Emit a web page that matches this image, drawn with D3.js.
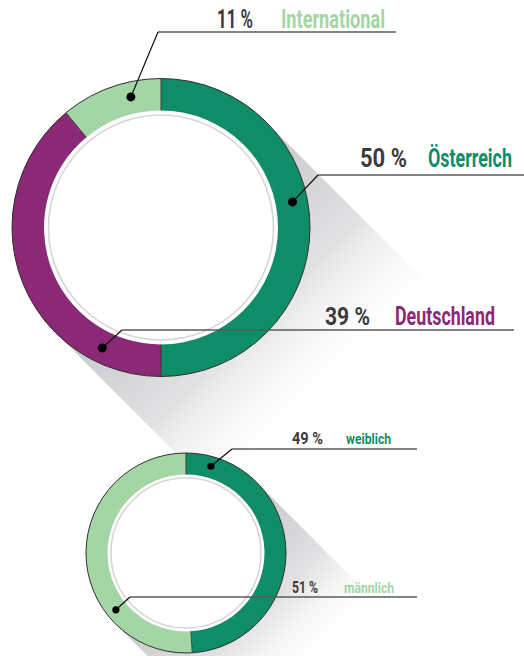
<!DOCTYPE html>
<html><head><meta charset="utf-8">
<script src="https://cdn.jsdelivr.net/npm/d3@7"></script>
<style>html,body{margin:0;padding:0;background:#fff;}svg{display:block;}</style>
</head><body>
<script>
// ---- data ----
const herkunftCategories = ["Österreich", "Deutschland", "International"];
const herkunftValues = [50, 39, 11];
const geschlechtCategories = ["weiblich", "männlich"];
const geschlechtValues = [49, 51];

// ---- styling / layout ----
const colorsHerkunft = ["#0f8c68", "#8b2977", "#a3d5a5"];
const colorsGeschlecht = ["#0f8c68", "#a3d5a5"];
const W = 524, H = 656;

const svg = d3.select("body").append("svg").attr("width", W).attr("height", H);
svg.append("rect").attr("width", W).attr("height", H).attr("fill", "#fff");
const defs = svg.append("defs");

const donuts = [
  { id: "a", cats: herkunftCategories, vals: herkunftValues, colors: colorsHerkunft,
    cx: 161, cy: 227.5, rO: 149, rI: 117, rG: 112.5, shadowLen: 250, fade: 245,
    dotR: 4.5, pctSize: 26.5, labSize: 25,
    labels: [
      { dotDeg: 79,  elbowX: 318, lineY: 175, lineEnd: 530, pctEnd: 407, pctW: 47, labX: 428, labW: 84, base: 167 },
      { dotDeg: 206, elbowX: 122, lineY: 330, lineEnd: 514, pctEnd: 370, pctW: 45, labX: 395, labW: 100, base: 325 },
      { dotDeg: 347, elbowX: 158, lineY: 32,  lineEnd: 396, pctEnd: 253, pctW: 36, labX: 281, labW: 104, base: 28 }
    ] },
  { id: "b", cats: geschlechtCategories, vals: geschlechtValues, colors: colorsGeschlecht,
    cx: 186, cy: 553, rO: 100, rI: 78.5, rG: 75, shadowLen: 200, fade: 175,
    dotR: 3.6, pctSize: 17, labSize: 14.5,
    labels: [
      { dotDeg: 16,  elbowX: 232, lineY: 449, lineEnd: 417, pctEnd: 323, pctW: 31, labX: 346, labW: 45, base: 444 },
      { dotDeg: 231, elbowX: 130, lineY: 597, lineEnd: 417, pctEnd: 318, pctW: 26, labX: 344, labW: 50, base: 593 }
    ] }
];

const s2 = Math.SQRT1_2;
const font = "Roboto,'DejaVu Sans Condensed',sans-serif";

// shadows first
donuts.forEach(d => {
  const g = defs.append("linearGradient").attr("id", "sh" + d.id)
    .attr("gradientUnits", "userSpaceOnUse")
    .attr("x1", d.cx).attr("y1", d.cy)
    .attr("x2", d.cx + d.fade * s2).attr("y2", d.cy + d.fade * s2);
  g.append("stop").attr("offset", 0).attr("stop-color", "#c4c5c8");
  g.append("stop").attr("offset", 0.55).attr("stop-color", "#e2e2e4");
  g.append("stop").attr("offset", 1).attr("stop-color", "#ffffff").attr("stop-opacity", 0);
  const p1 = [d.cx + d.rO * s2, d.cy - d.rO * s2];
  const p2 = [d.cx - d.rO * s2, d.cy + d.rO * s2];
  const L = d.shadowLen;
  svg.append("path")
    .attr("d", `M${p1[0]},${p1[1]} L${p1[0] + L * s2},${p1[1] + L * s2} L${p2[0] + L * s2},${p2[1] + L * s2} L${p2[0]},${p2[1]} Z`)
    .attr("fill", `url(#sh${d.id})`);
});

function fitText(sel, x, y, width, anchorEnd) {
  const w = sel.node().getComputedTextLength();
  const sx = width / w;
  const x0 = anchorEnd ? x - width : x;
  sel.attr("transform", `translate(${x0},${y}) scale(${sx},1)`);
}

donuts.forEach(d => {
  const g = svg.append("g").attr("transform", `translate(${d.cx},${d.cy})`);
  const pie = d3.pie().sort(null).value(v => v)(d.vals);
  const arc = d3.arc().innerRadius(d.rI).outerRadius(d.rO);
  g.append("circle").attr("r", d.rO).attr("fill", "#fff");
  g.selectAll("path.seg").data(pie).join("path").attr("class", "seg")
    .attr("d", arc).attr("fill", (p, i) => d.colors[i]);
  g.selectAll("line.div").data(pie).join("line").attr("class", "div")
    .attr("x1", p => d.rI * Math.sin(p.startAngle)).attr("y1", p => -d.rI * Math.cos(p.startAngle))
    .attr("x2", p => d.rO * Math.sin(p.startAngle)).attr("y2", p => -d.rO * Math.cos(p.startAngle))
    .attr("stroke", "#333").attr("stroke-width", 0.9);
  g.append("circle").attr("r", d.rO).attr("fill", "none").attr("stroke", "#2f2f2f").attr("stroke-width", 1);
  g.append("circle").attr("r", d.rG).attr("fill", "none").attr("stroke", "#d6d6d6").attr("stroke-width", 1.6);

  const rm = (d.rI + d.rO) / 2 + 1;
  d.labels.forEach((lb, i) => {
    const a = lb.dotDeg * Math.PI / 180;
    const dx = d.cx + rm * Math.sin(a), dy = d.cy - rm * Math.cos(a);
    svg.append("line").attr("x1", lb.elbowX).attr("y1", lb.lineY).attr("x2", lb.lineEnd).attr("y2", lb.lineY)
      .attr("stroke", "#5a5a5a").attr("stroke-width", 1.4);
    svg.append("line").attr("x1", dx).attr("y1", dy).attr("x2", lb.elbowX).attr("y2", lb.lineY)
      .attr("stroke", "#111").attr("stroke-width", 1.2);
    svg.append("circle").attr("cx", dx).attr("cy", dy).attr("r", d.dotR).attr("fill", "#000");
    const tp = svg.append("text").attr("font-family", font).attr("font-weight", "bold")
      .attr("font-size", d.pctSize).attr("fill", "#3b3b3d").text(d.vals[i] + " %");
    fitText(tp, lb.pctEnd, lb.base, lb.pctW, true);
    const tl = svg.append("text").attr("font-family", font).attr("font-weight", "bold")
      .attr("font-size", d.labSize).attr("fill", d.colors[i]).text(d.cats[i]);
    fitText(tl, lb.labX, lb.base, lb.labW, false);
  });
});
</script>
</body></html>
